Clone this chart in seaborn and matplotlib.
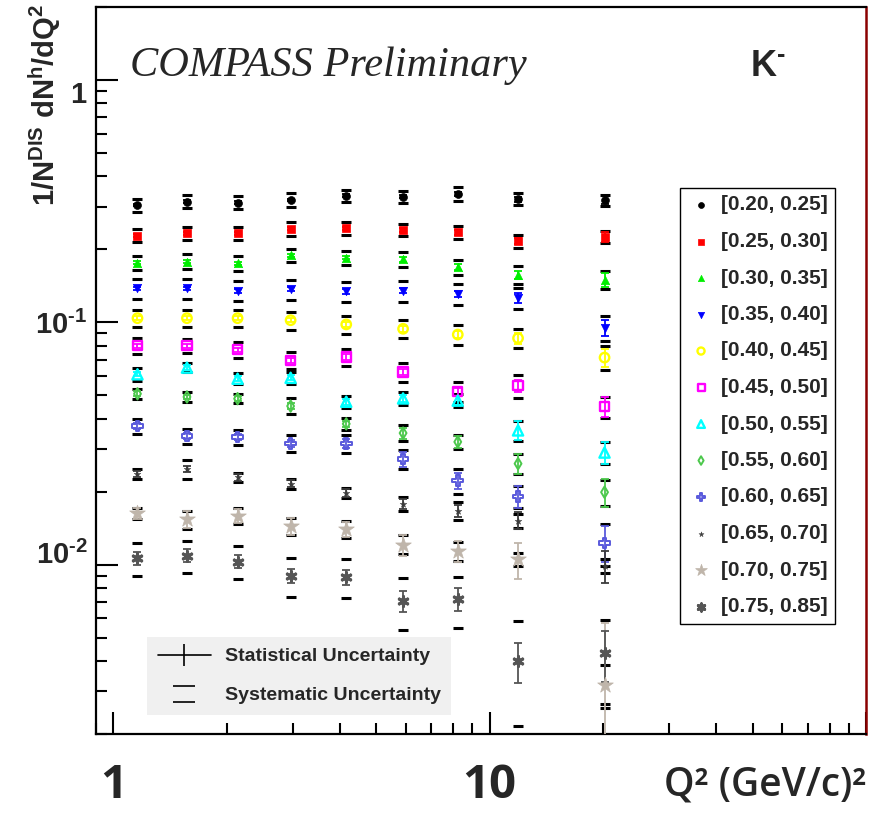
import numpy as np
import pandas as pd
import matplotlib
matplotlib.use("Agg")
import matplotlib.pyplot as plt
import seaborn as sns
from matplotlib.path import Path
from matplotlib.lines import Line2D
from matplotlib.font_manager import FontProperties
from matplotlib.transforms import ScaledTranslation
from matplotlib.ticker import FixedLocator, FixedFormatter, LogLocator, NullFormatter

# ---------------------------------------------------------------- data
q2 = [1.16, 1.57, 2.14, 2.96, 4.16, 5.89, 8.23, 11.9, 20.2]

z_bins = ["[0.20, 0.25]", "[0.25, 0.30]", "[0.30, 0.35]", "[0.35, 0.40]",
          "[0.40, 0.45]", "[0.45, 0.50]", "[0.50, 0.55]", "[0.55, 0.60]",
          "[0.60, 0.65]", "[0.65, 0.70]", "[0.70, 0.75]", "[0.75, 0.85]"]

# multiplicities per z bin
mult_z1 = [0.304, 0.315, 0.312, 0.320, 0.333, 0.330, 0.339, 0.322, 0.319]
mult_z2 = [0.228, 0.233, 0.233, 0.243, 0.244, 0.241, 0.235, 0.216, 0.225]
mult_z3 = [0.176, 0.178, 0.175, 0.189, 0.185, 0.182, 0.169, 0.157, 0.150]
mult_z4 = [0.138, 0.138, 0.135, 0.137, 0.134, 0.135, 0.131, 0.126, 0.095]
mult_z5 = [0.104, 0.104, 0.104, 0.102, 0.098, 0.094, 0.089, 0.086, 0.0715]
mult_z6 = [0.080, 0.080, 0.077, 0.0695, 0.072, 0.0624, 0.0517, 0.0547, 0.0448]
mult_z7 = [0.061, 0.065, 0.0585, 0.059, 0.047, 0.0485, 0.0475, 0.0358, 0.029]
mult_z8 = [0.0507, 0.0492, 0.0484, 0.0451, 0.0381, 0.0349, 0.0321, 0.0261, 0.0199]
mult_z9 = [0.0373, 0.0339, 0.0336, 0.0316, 0.0316, 0.0273, 0.0222, 0.0191, 0.0123]
mult_z10 = [0.0237, 0.0248, 0.0229, 0.0216, 0.0198, 0.0178, 0.0167, 0.0152, 0.0099]
mult_z11 = [0.0163, 0.0154, 0.0159, 0.0144, 0.0140, 0.0121, 0.0114, 0.0105, 0.0032]
mult_z12 = [0.0106, 0.0109, 0.0103, 0.0090, 0.0089, 0.0071, 0.0072, 0.0040, 0.0043]

# relative statistical uncertainties
stat_z1 = [0.010, 0.010, 0.010, 0.012, 0.012, 0.015, 0.018, 0.025, 0.040]
stat_z2 = [0.012, 0.012, 0.012, 0.014, 0.015, 0.018, 0.022, 0.030, 0.045]
stat_z3 = [0.014, 0.014, 0.015, 0.016, 0.018, 0.022, 0.026, 0.035, 0.065]
stat_z4 = [0.015, 0.016, 0.017, 0.018, 0.020, 0.024, 0.030, 0.050, 0.075]
stat_z5 = [0.016, 0.017, 0.018, 0.020, 0.022, 0.027, 0.033, 0.055, 0.085]
stat_z6 = [0.018, 0.019, 0.020, 0.022, 0.025, 0.030, 0.038, 0.060, 0.095]
stat_z7 = [0.020, 0.021, 0.022, 0.025, 0.028, 0.034, 0.043, 0.090, 0.105]
stat_z8 = [0.022, 0.023, 0.025, 0.028, 0.032, 0.053, 0.060, 0.095, 0.130]
stat_z9 = [0.025, 0.026, 0.028, 0.032, 0.040, 0.070, 0.075, 0.100, 0.170]
stat_z10 = [0.028, 0.030, 0.032, 0.036, 0.040, 0.048, 0.058, 0.080, 0.150]
stat_z11 = [0.050, 0.080, 0.070, 0.080, 0.070, 0.100, 0.100, 0.170, 0.800]
stat_z12 = [0.060, 0.060, 0.063, 0.070, 0.070, 0.100, 0.110, 0.185, 0.240]

# relative systematic uncertainties
sys_z1 = [0.060, 0.060, 0.064, 0.064, 0.055, 0.055, 0.067, 0.057, 0.055]
sys_z2 = [0.062, 0.060, 0.065, 0.064, 0.060, 0.060, 0.064, 0.063, 0.060]
sys_z3 = [0.065, 0.070, 0.069, 0.065, 0.067, 0.067, 0.072, 0.085, 0.085]
sys_z4 = [0.093, 0.094, 0.094, 0.096, 0.096, 0.098, 0.099, 0.100, 0.120]
sys_z5 = [0.080, 0.077, 0.077, 0.085, 0.084, 0.084, 0.092, 0.090, 0.115]
sys_z6 = [0.075, 0.070, 0.075, 0.080, 0.079, 0.093, 0.096, 0.110, 0.100]
sys_z7 = [0.058, 0.045, 0.053, 0.053, 0.058, 0.064, 0.062, 0.094, 0.105]
sys_z8 = [0.046, 0.048, 0.041, 0.075, 0.056, 0.075, 0.069, 0.097, 0.120]
sys_z9 = [0.069, 0.075, 0.070, 0.080, 0.088, 0.093, 0.122, 0.100, 0.200]
sys_z10 = [0.051, 0.094, 0.046, 0.048, 0.048, 0.069, 0.086, 0.064, 0.070]
sys_z11 = [0.052, 0.085, 0.072, 0.080, 0.080, 0.090, 0.090, 0.060, 0.200]
sys_z12 = [0.155, 0.152, 0.157, 0.180, 0.180, 0.240, 0.240, 0.460, 0.380]

mults = [mult_z1, mult_z2, mult_z3, mult_z4, mult_z5, mult_z6,
         mult_z7, mult_z8, mult_z9, mult_z10, mult_z11, mult_z12]
stats = [stat_z1, stat_z2, stat_z3, stat_z4, stat_z5, stat_z6,
         stat_z7, stat_z8, stat_z9, stat_z10, stat_z11, stat_z12]
systs = [sys_z1, sys_z2, sys_z3, sys_z4, sys_z5, sys_z6,
         sys_z7, sys_z8, sys_z9, sys_z10, sys_z11, sys_z12]

# ---------------------------------------------------------------- styles
asterisk = (6, 2, 0)
# marker, colour, size (pt^2), filled, edge width
styles = [
    ("o", "#000000", 32, True, 0.5),
    ("s", "#ff0000", 32, True, 0.5),
    ("^", "#00ee00", 36, True, 0.5),
    ("v", "#0000ff", 36, True, 0.5),
    ("o", "#ffff00", 46, False, 1.7),
    ("s", "#ff00ff", 46, False, 1.7),
    ("^", "#00ffff", 54, False, 1.7),
    ("d", "#4cc84c", 34, False, 1.4),
    ("P", "#5a5adc", 58, False, 1.4),
    ("*", "#3c3c3c", 26, True, 0.3),
    ("*", "#bfb5aa", 140, True, 0.5),
    (asterisk, "#555555", 48, True, 2.2),
]

sns.set_theme(style="ticks")
plt.rcParams["font.family"] = ["Liberation Sans", "DejaVu Sans"]
plt.rcParams["mathtext.fontset"] = "custom"
plt.rcParams["mathtext.rm"] = "Liberation Sans"
plt.rcParams["mathtext.bf"] = "Liberation Sans:bold"
plt.rcParams["mathtext.it"] = "Liberation Sans:italic"

fig = plt.figure(figsize=(8.78, 8.14), dpi=100)
fig.patch.set_facecolor("white")
W, H = 878.0, 814.0
ax = fig.add_axes([96 / W, 1 - 734 / H, 770 / W, 727 / H])
ax.set_facecolor("white")
ax.set_xscale("log")
ax.set_yscale("log")

for label, vals, st, sy, (mk, col, sz, filled, lw) in zip(z_bins, mults, stats, systs, styles):
    v = np.asarray(vals)
    # systematic uncertainty: black dashes only
    eb = ax.errorbar(q2, v, yerr=np.asarray(sy) * v, fmt="none", ecolor="black",
                     capsize=3.6, capthick=2.2, elinewidth=1, zorder=2)
    for coll in eb[2]:
        coll.set_visible(False)
    # statistical bars in the series colour
    ax.errorbar(q2, v, yerr=np.asarray(st) * v, fmt="none", ecolor=col,
                capsize=3.0, capthick=1.3, elinewidth=1.3, zorder=3)
    df = pd.DataFrame({"Q2": q2, "mult": v})
    sns.scatterplot(data=df, x="Q2", y="mult", ax=ax, marker=mk, s=sz,
                    color=col, edgecolor=col,
                    facecolor=(col if filled else "none"),
                    linewidth=lw, zorder=4, label=label)

ax.set_xlim(0.9, 100)
ax.set_ylim(0.002, 2)
ax.set_xlabel("")
ax.set_ylabel("")

# ---------------------------------------------------------------- axes styling
for side in ("left", "bottom", "top"):
    ax.spines[side].set_color("black")
    ax.spines[side].set_linewidth(1.6)
ax.spines["right"].set_color("#8b0000")
ax.spines["right"].set_linewidth(1.8)

ax.xaxis.set_major_locator(FixedLocator([1, 10, 100]))
ax.xaxis.set_minor_locator(LogLocator(base=10, subs=np.arange(2, 10), numticks=20))
ax.yaxis.set_major_locator(FixedLocator([0.01, 0.1, 1]))
ax.yaxis.set_minor_locator(LogLocator(base=10, subs=np.arange(2, 10), numticks=20))
ax.xaxis.set_major_formatter(FixedFormatter(["1", "10", ""]))
ax.yaxis.set_major_formatter(FixedFormatter([r"$\mathbf{10^{‐2}}$", r"$\mathbf{10^{‐1}}$", r"$\mathbf{1}$"]))
ax.xaxis.set_minor_formatter(NullFormatter())
ax.yaxis.set_minor_formatter(NullFormatter())

ax.tick_params(which="both", direction="in", top=False, right=False, color="black", width=1.5)
ax.tick_params(which="major", length=16)
ax.tick_params(which="minor", length=8)
ax.tick_params(axis="x", which="major", pad=20)
ax.tick_params(axis="y", which="major", pad=6, labelsize=21)

xfont = FontProperties(family=["Open Sans", "Liberation Sans"], weight="bold", size=34)
for t in ax.get_xticklabels():
    t.set_fontproperties(xfont)

# y labels sit slightly off their ticks, spreading away from 10^-1
fig.canvas.draw()
for tick, dy in zip(ax.yaxis.get_major_ticks(), (9, 0, -9)):
    lab = tick.label1
    lab.set_transform(lab.get_transform() + ScaledTranslation(0, dy / 72.0, fig.dpi_scale_trans))

# ---------------------------------------------------------------- texts
fig.text(130 / W, 1 - 66 / H, "COMPASS Preliminary", family="Liberation Serif",
         style="italic", size=30.5, va="center", ha="left")
fig.text(750 / W, 1 - 66 / H, r"$\mathbf{K^{‐}}$", size=26, va="center", ha="left")
fig.text(45 / W, 1 - 4 / H,
         r"1/N$^{\mathbf{DIS}}$ dN$^{\mathbf{h}}$/dQ$^{\mathbf{2}}$",
         rotation=90, size=21, weight="bold", ha="center", va="top")
fig.text(866 / W, 1 - 786 / H, "Q² (GeV/c)²",
         family=["Open Sans", "Liberation Sans"], weight="semibold", size=28,
         ha="right", va="center")

# ---------------------------------------------------------------- legends
leg1 = ax.legend(loc="upper left", bbox_to_anchor=(680 / W, 1 - 188 / H),
                 bbox_transform=fig.transFigure, frameon=True, fancybox=False,
                 edgecolor="black", framealpha=1, facecolor="white",
                 prop=FontProperties(family="Liberation Sans", weight="bold", size=15),
                 labelspacing=0.84, borderpad=0.36, handlelength=1.3,
                 handletextpad=0.3, borderaxespad=0, scatterpoints=1,
                 markerscale=0.75)
leg1.get_frame().set_linewidth(1.0)
ax.add_artist(leg1)

sys_marker = Path([(-1, 0.74), (1, 0.74), (-1, -0.74), (1, -0.74)],
                  [Path.MOVETO, Path.LINETO, Path.MOVETO, Path.LINETO])
h_stat = Line2D([], [], color="black", lw=1.2, marker="|", markersize=16, mew=1.2)
h_sys = Line2D([], [], color="black", ls="none", marker=sys_marker, markersize=16.5, mew=1.2)
leg2 = ax.legend([h_stat, h_sys], ["Statistical Uncertainty", "Systematic Uncertainty"],
                 loc="upper left", bbox_to_anchor=(147 / W, 1 - 637 / H),
                 bbox_transform=fig.transFigure, frameon=True, fancybox=False,
                 facecolor="#f0f0f0", edgecolor="none", framealpha=1,
                 prop=FontProperties(family="Liberation Sans", weight="bold", size=14),
                 labelspacing=1.1, borderpad=0.55, handlelength=2.75,
                 handletextpad=0.7, borderaxespad=0)

fig.savefig("out.png", dpi=100, facecolor="white")
